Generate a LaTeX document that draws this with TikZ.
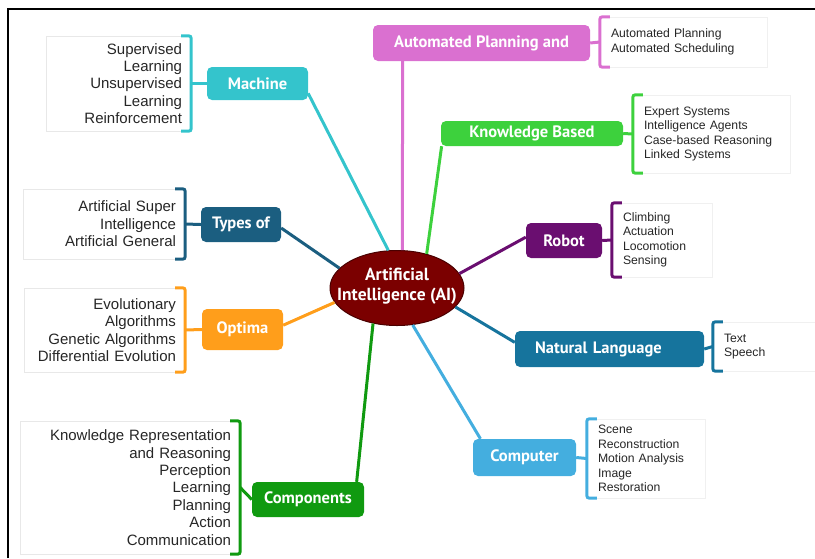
\documentclass[tikz,border=0pt]{standalone}
\usepackage{fontspec}
\setmainfont{Liberation Sans}
\newfontfamily\labelfont{PT Sans}
\usetikzlibrary{shapes.geometric}
\definecolor{aired}{RGB}{123,0,0}
\definecolor{machc}{RGB}{52,196,204}
\definecolor{typec}{RGB}{27,94,128}
\definecolor{optc}{RGB}{255,158,27}
\definecolor{compc}{RGB}{16,154,16}
\definecolor{apc}{RGB}{218,112,208}
\definecolor{kbc}{RGB}{61,209,61}
\definecolor{robc}{RGB}{106,14,112}
\definecolor{nlc}{RGB}{22,116,157}
\definecolor{cvc}{RGB}{68,174,223}
\begin{document}
\begin{tikzpicture}[x=1pt,y=-1pt,
		cat/.style={fill=#1, rounded corners=5pt, text=white, inner sep=0pt, font=\labelfont\bfseries\fontsize{16.5}{18}\selectfont},
		leafL/.style={draw=gray!18, align=right, inner xsep=9pt, inner ysep=0pt, text=black!85, font=\fontsize{15}{17.4}\selectfont},
		leafR/.style={draw=gray!12, align=left, inner xsep=11pt, inner ysep=0pt, text=black!85, font=\fontsize{12.2}{14.4}\selectfont},
		brk/.style={draw=#1, line width=3pt, rounded corners=2.5pt},
		link/.style={draw=#1, line width=3pt}]
		\useasboundingbox (0,0) rectangle (815,558);
		\draw [line width=1.3pt](8,558) -- (8,9) -- (815,9);
		\node [ellipse, fill=aired, draw=aired!60!black, line width=1pt, minimum width=134pt, minimum height=75pt, inner xsep=-14pt, inner ysep=0pt, text depth=8pt, text=white, align=center, font=\labelfont\bfseries\fontsize{17.5}{20}\selectfont] (ai) at (397,288) {Artificial\\Intelligence (AI)};
		\node [cat=machc, minimum width=101pt, minimum height=33pt] (mach) at (257.5,83.5) {Machine};
		\node [cat=typec, minimum width=80pt, minimum height=35pt] (type) at (241,224.5) {Types of};
		\node [cat=optc, minimum width=81pt, minimum height=41pt] (opt) at (242.5,329.5) {Optima};
		\node [cat=compc, minimum width=112pt, minimum height=35pt] (comp) at (308,499.5) {Components};
		\node [cat=apc, minimum width=217pt, minimum height=36pt] (ap) at (481.5,43) {Automated Planning and};
		\node [cat=kbc, minimum width=182pt, minimum height=25pt] (kb) at (532,133.5) {Knowledge Based};
		\node [cat=robc, minimum width=76pt, minimum height=35pt] (rob) at (564,240.5) {Robot};
		\node [cat=nlc, minimum width=189pt, minimum height=36pt, text width=149pt, align=left] (nl) at (609.5,349) {Natural Language};
		\node [cat=cvc, minimum width=103pt, minimum height=37pt] (cv) at (524.5,457.5) {Computer};
		\node [leafL, text width=127pt, minimum height=95pt] (machf) at (118.5,83.5) {Supervised\\Learning\\Unsupervised\\Learning\\Reinforcement};
		\node [leafL, text width=144pt, minimum height=70pt] (typef) at (104,224) {Artificial Super\\Intelligence\\Artificial General};
		\node [leafL, text width=143pt, minimum height=84pt] (optf) at (104.5,330) {Evolutionary\\Algorithms\\Genetic Algorithms\\Differential Evolution};
		\node [leafL, text width=202pt, minimum height=133pt] (compf) at (130,487.5) {Knowledge Representation\\and Reasoning\\Perception\\Learning\\Planning\\Action\\Communication};
		\node [leafR, text width=145pt, minimum height=50pt] (apf) at (683.5,42) {Automated Planning\\Automated Scheduling};
		\node [leafR, text width=135pt, minimum height=78pt] (kbf) at (711.5,134) {Expert Systems\\Intelligence Agents\\Case-based Reasoning\\Linked Systems};
		\node [leafR, text width=78pt, minimum height=74pt] (robf) at (662,240) {Climbing\\Actuation\\Locomotion\\Sensing};
		\node [leafR, text width=80pt, minimum height=49pt] (nlf) at (764,346.5) {Text\\Speech};
		\node [leafR, text width=96pt, minimum height=79pt] (cvf) at (646,458.5) {Scene\\Reconstruction\\Motion Analysis\\Image\\Restoration};
		\draw [brk=machc]([xshift=-10pt]machf.north east) -- (machf.north east) -- (machf.south east) -- ([xshift=-10pt]machf.south east);
		\draw [brk=typec]([xshift=-10pt]typef.north east) -- (typef.north east) -- (typef.south east) -- ([xshift=-10pt]typef.south east);
		\draw [brk=optc]([xshift=-10pt]optf.north east) -- (optf.north east) -- (optf.south east) -- ([xshift=-10pt]optf.south east);
		\draw [brk=compc]([xshift=-10pt]compf.north east) -- (compf.north east) -- (compf.south east) -- ([xshift=-10pt]compf.south east);
		\draw [brk=apc]([xshift=10pt]apf.north west) -- (apf.north west) -- (apf.south west) -- ([xshift=10pt]apf.south west);
		\draw [brk=kbc]([xshift=10pt]kbf.north west) -- (kbf.north west) -- (kbf.south west) -- ([xshift=10pt]kbf.south west);
		\draw [brk=robc]([xshift=10pt]robf.north west) -- (robf.north west) -- (robf.south west) -- ([xshift=10pt]robf.south west);
		\draw [brk=nlc]([xshift=10pt]nlf.north west) -- (nlf.north west) -- (nlf.south west) -- ([xshift=10pt]nlf.south west);
		\draw [brk=cvc]([xshift=10pt]cvf.north west) -- (cvf.north west) -- (cvf.south west) -- ([xshift=10pt]cvf.south west);
		\draw [brk=machc](machf.east) -- (mach.west);
		\draw [brk=typec](typef.east) -- (type.west);
		\draw [brk=optc](optf.east) -- (opt.west);
		\draw [brk=compc](compf.east) -- (comp.west);
		\draw [brk=apc](apf.west) -- (ap.east);
		\draw [brk=kbc](kbf.west) -- (kb.east);
		\draw [brk=robc](robf.west) -- (rob.east);
		\draw [brk=nlc](nlf.west) -- (nl.east);
		\draw [brk=cvc](cvf.west) -- (cv.east);
		\draw [link=machc](mach.-11) -- (ai.103);
		\draw [link=typec](type.-5) -- (ai.161);
		\draw [link=optc](opt.6) -- (ai.193);
		\draw [link=compc](comp.20) -- (ai.236);
		\draw [link=apc](ap.193) -- (ai.82);
		\draw [link=kbc](kb.188) -- (ai.49);
		\draw [link=robc](rob.175) -- (ai.13);
		\draw [link=nlc](nl.176) -- (ai.-18);
		\draw [link=cvc](cv.157) -- (ai.-67);
	\end{tikzpicture}
\end{document}
